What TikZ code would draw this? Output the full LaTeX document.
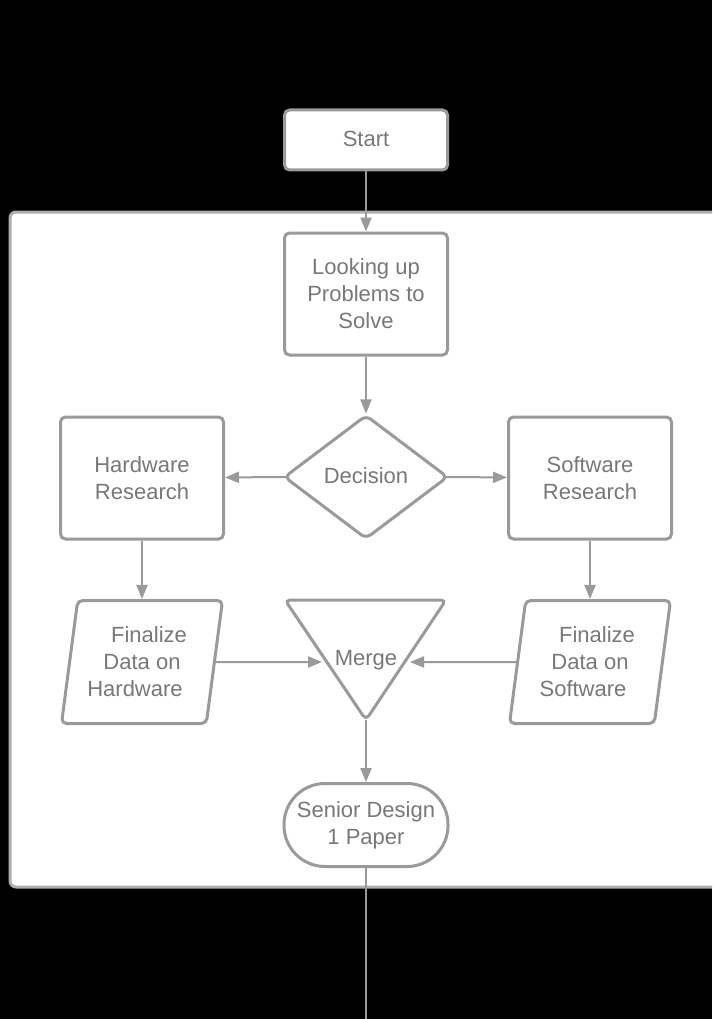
\documentclass[tikz,border=0pt]{standalone}
\usepackage{fontspec}
\setmainfont{Liberation Sans}
\usetikzlibrary{arrows.meta,shapes.geometric,shapes.misc}
\definecolor{bordergray}{HTML}{9A9A9A}
\definecolor{textgray}{HTML}{787878}
\tikzset{
  shapebox/.style={draw=bordergray, line width=3pt, fill=white, text=textgray,
    font=\fontsize{22}{27}\selectfont, align=center, inner sep=0pt},
  procbox/.style={shapebox, rectangle, rounded corners=5pt, minimum width=163pt},
  databox/.style={shapebox, trapezium, trapezium left angle=77, trapezium right angle=103,
    trapezium stretches body, minimum width=161pt, minimum height=123pt, rounded corners=5pt},
  connector/.style={draw=bordergray, line width=2pt, -{Triangle[length=14pt,width=11pt]}},
  plainline/.style={draw=bordergray, line width=2pt},
}
\begin{document}
\begin{tikzpicture}[x=1pt,y=-1pt]
\useasboundingbox (0,0) rectangle (712,1019);
\fill[black] (0,0) rectangle (712,1019);
\begin{scope}
\clip (0,0) rectangle (712,1019);
\draw[draw=bordergray!80, line width=3pt, fill=white, rounded corners=6pt] (10,212) rectangle (740,887);
\end{scope}

\node[procbox, minimum height=60pt] (start) at (366,140) {\raisebox{2pt}{Start}};
\node[procbox, minimum height=122pt] (look) at (366,294) {\raisebox{2pt}{\parbox{150pt}{\centering Looking up\\Problems to\\Solve}}};
\node[shapebox, diamond, minimum width=164pt, minimum height=124pt, rounded corners=6pt] (dec) at (366,477) {\raisebox{2pt}{Decision}};
\node[procbox, minimum height=122pt] (hwr) at (142,478) {\raisebox{3pt}{\parbox{150pt}{\centering Hardware\\Research}}};
\node[procbox, minimum height=122pt] (swr) at (590,478) {\raisebox{3pt}{\parbox{150pt}{\centering Software\\Research}}};
\node[databox] (fhw) at (142,662) {\raisebox{3pt}{\parbox{112pt}{\centering\hspace*{14pt}Finalize\\Data on\\Hardware\hspace*{14pt}}}};
\node[databox] (fsw) at (590,662) {\raisebox{3pt}{\parbox{112pt}{\centering\hspace*{14pt}Finalize\\Data on\\Software\hspace*{14pt}}}};
\draw[draw=bordergray, line width=3pt, fill=white, rounded corners=5pt] (285,600) -- (446,600) -- (366,720) -- cycle;
\node[text=textgray, font=\fontsize{22}{27}\selectfont, inner sep=0pt] (merge) at (366,660) {Merge};
\coordinate (mergeS) at (366,720);
\coordinate (mergeW) at (322,662);
\coordinate (mergeE) at (410,662);
\node[shapebox, rectangle, rounded corners=41pt, minimum width=164pt, minimum height=83pt] (sd) at (366,825) {Senior Design\\1 Paper};
\coordinate (exit) at (366,1019);
\coordinate (decW) at (288,477);
\coordinate (decE) at (444,477);

\draw[connector] (start) -- (look);
\draw[connector] (look) -- (dec);
\draw[connector] (decW) -- (hwr);
\draw[connector] (decE) -- (swr);
\draw[connector] (hwr) -- (fhw);
\draw[connector] (swr) -- (fsw);
\draw[connector] (fhw) -- (mergeW);
\draw[connector] (fsw) -- (mergeE);
\draw[connector] (mergeS) -- (sd);
\draw[plainline] (sd) -- (exit);
\end{tikzpicture}
\end{document}
